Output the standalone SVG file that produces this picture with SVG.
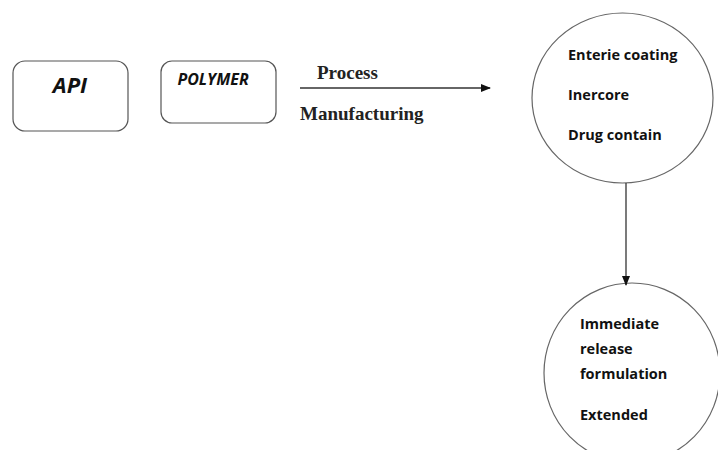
<svg xmlns="http://www.w3.org/2000/svg" width="718" height="450" viewBox="0 0 718 450">
<style>
.box{fill:#fff;stroke:#555;stroke-width:1.2}
.circ{fill:#fff;stroke:#666;stroke-width:1.2}
.lbl{font-family:"Open Sans","Liberation Sans",Arial,sans-serif;font-weight:bold;fill:#111}
.ser{font-family:"Liberation Serif","Times New Roman",serif;font-weight:bold;font-size:19px;fill:#222}
.con{stroke:#333;stroke-width:1.3;fill:none}
</style>
<defs>
<marker id="ah" markerWidth="10" markerHeight="8" refX="9" refY="4" orient="auto" markerUnits="userSpaceOnUse">
<path d="M0,0 L10,4 L0,8 Z" fill="#111"/>
</marker>
</defs>
<rect width="718" height="450" fill="#fff"/>
<g id="api">
<rect class="box" x="13" y="61" width="115" height="70" rx="12"/>
<text class="lbl" x="70" y="93" font-size="22" font-style="italic" text-anchor="middle">API</text>
</g>
<g id="polymer">
<rect class="box" x="161" y="61" width="115" height="62" rx="11"/>
<text class="lbl" x="213" y="85" font-size="16" font-style="italic" text-anchor="middle">POLYMER</text>
</g>
<g id="coating">
<ellipse class="circ" cx="622.5" cy="98" rx="90.5" ry="85"/>
<text class="lbl" x="568" y="60" font-size="14.5">Enterie coating</text>
<text class="lbl" x="568" y="100" font-size="14.5">Inercore</text>
<text class="lbl" x="568" y="140" font-size="14.5">Drug contain</text>
</g>
<g id="release">
<ellipse class="circ" cx="632" cy="373" rx="88" ry="90"/>
<text class="lbl" x="580" y="329" font-size="14.5">Immediate</text>
<text class="lbl" x="580" y="354" font-size="14.5">release</text>
<text class="lbl" x="580" y="379" font-size="14.5">formulation</text>
<text class="lbl" x="580" y="420" font-size="14.5">Extended</text>
</g>
<g id="connectors">
<line class="con" x1="300" y1="88" x2="490" y2="88" marker-end="url(#ah)"/>
<text class="ser" x="317" y="79">Process</text>
<text class="ser" x="300" y="120">Manufacturing</text>
<line class="con" x1="626" y1="183" x2="626" y2="285" marker-end="url(#ah)"/>
</g>
</svg>
